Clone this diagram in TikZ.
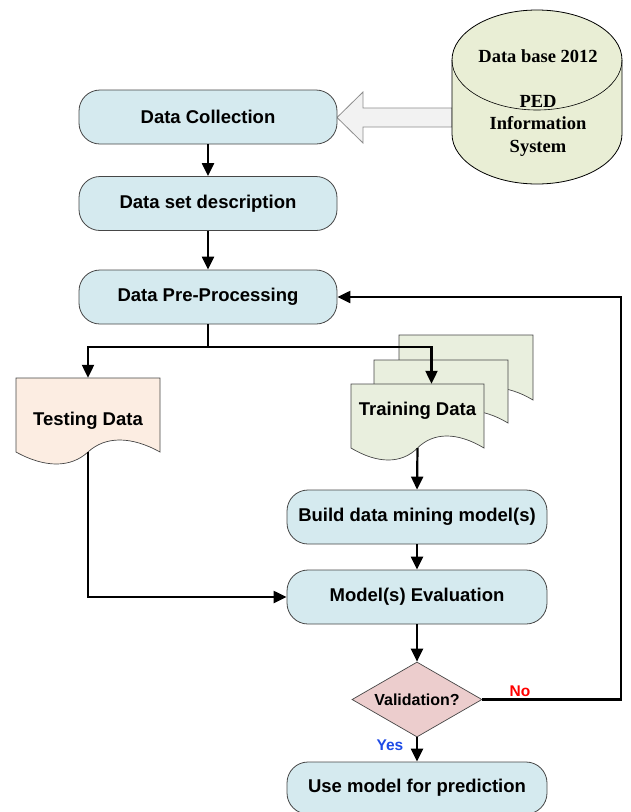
\documentclass[tikz,border=0pt]{standalone}
\usepackage{fontspec}
\setmainfont{Liberation Sans}
\newfontfamily\dbserif{Liberation Serif}
\usetikzlibrary{arrows.meta,shapes.geometric}
\definecolor{boxblue}{RGB}{213,234,239}
\definecolor{boxline}{RGB}{70,70,70}
\definecolor{testfill}{RGB}{252,237,226}
\definecolor{trainfill}{RGB}{233,239,222}
\definecolor{cylfill}{RGB}{233,238,213}
\definecolor{diafill}{RGB}{236,205,205}
\definecolor{yesblue}{RGB}{30,75,230}
\definecolor{hollowfill}{RGB}{242,242,242}
\definecolor{hollowline}{RGB}{140,140,140}
\newcommand\docshape[5]{\filldraw[#5] (#1,#2) -- ({#1+#3},#2) -- ({#1+#3},{#2+#4}) .. controls ({#1+0.8*#3},{#2+#4-16}) and ({#1+0.62*#3},{#2+#4-16}) .. ({#1+0.5*#3},{#2+#4}) .. controls ({#1+0.38*#3},{#2+#4+16}) and ({#1+0.2*#3},{#2+#4+16}) .. (#1,{#2+#4}) -- cycle;}
\begin{document}
\begin{tikzpicture}[x=1pt,y=-1pt,
  every node/.style={font=\fontsize{18.5}{22.5}\selectfont\bfseries},
  procbox/.style={draw=boxline,line width=0.8pt,fill=boxblue,rounded corners=21pt,minimum width=258pt,minimum height=54pt,inner sep=0pt},
  docline/.style={draw=boxline,line width=0.7pt},
  arr/.style={line width=2.2pt,-{Triangle[length=13pt,width=12pt]}},
  plain/.style={line width=2.2pt}]
\useasboundingbox (0,0) rectangle (630,812);

% hollow arrow from database
\filldraw[fill=hollowfill,draw=hollowline,line width=0.8pt]
  (337,117.5) -- (363,92) -- (363,108) -- (452,108) -- (452,127) -- (363,127) -- (363,143) -- cycle;

% database cylinder
\filldraw[fill=cylfill,draw=black,line width=0.8pt]
  (452,60) -- (452,134) arc[start angle=180,end angle=360,x radius=85pt,y radius=50pt]
  -- (622,60) arc[start angle=0,end angle=180,x radius=85pt,y radius=50pt] -- cycle;
\draw[line width=0.6pt] (452,60) arc[start angle=180,end angle=360,x radius=85pt,y radius=50pt];
\node[align=center,inner sep=0pt,font=\fontsize{18.5}{22.5}\selectfont\bfseries\dbserif] (db) at (538,103)
  {Data base 2012\\[22.5pt]PED\\Information\\System};

% process boxes
\node[procbox] (dc) at (208,117) {Data Collection};
\node[procbox] (dsd) at (208,203.5) {Data set description};
\node[procbox] (dpp) at (208,297) {Data Pre-Processing};
\node[procbox,minimum width=260pt] (build) at (417,517) {Build data mining model(s)};
\node[procbox,minimum width=260pt] (eval) at (417,597) {Model(s) Evaluation};
\node[procbox,minimum width=260pt,minimum height=52pt] (use) at (417,788) {Use model for prediction};

% documents
\docshape{16}{378}{144}{74}{docline,fill=testfill}
\node[minimum width=144pt,minimum height=74pt,inner sep=0pt] (test) at (88,415)
  {\raisebox{-6pt}[\height][\depth]{Testing Data}};
\docshape{399}{335}{134}{65}{docline,fill=trainfill}
\docshape{374}{360}{134}{63}{docline,fill=trainfill}
\docshape{351}{384}{133}{64}{docline,fill=trainfill}
\node[minimum width=133pt,minimum height=64pt,inner sep=0pt] (train) at (417.5,416)
  {\raisebox{5pt}[\height][\depth]{Training Data}};

% decision
\node[diamond,draw=boxline,line width=0.7pt,fill=diafill,aspect=1.73,inner sep=0pt,
  minimum width=130pt,minimum height=75pt,font=\fontsize{16}{19}\selectfont\bfseries] (valid) at (417,699.5) {Validation?};

% connectors
\coordinate (split) at (208,347);
\coordinate (noright) at (621,0);
\draw[arr] (dc.south) -- (dsd.north);
\draw[arr] (dsd.south) -- (dpp.north);
\draw[plain] (dpp.south) -- (split);
\draw[arr] (split) -| (test.north);
\draw[arr] (split) -| ([xshift=14pt]train.north);
\draw[arr] (train.south) -- (build.north);
\draw[arr] (build.south) -- (eval.north);
\draw[arr] (test.south) |- (eval.west);
\draw[arr] (eval.south) -- (valid.north);
\draw[arr] (valid.east) -- (valid.east -| noright) |- (dpp.east);
\draw[arr] (valid.south) -- (use.north);

% labels
\node[text=red,font=\fontsize{15.5}{18}\selectfont\bfseries] (nolab) at (520,691) {No};
\node[text=yesblue,font=\fontsize{15.5}{18}\selectfont\bfseries] (yeslab) at (390,745) {Yes};
\end{tikzpicture}
\end{document}
